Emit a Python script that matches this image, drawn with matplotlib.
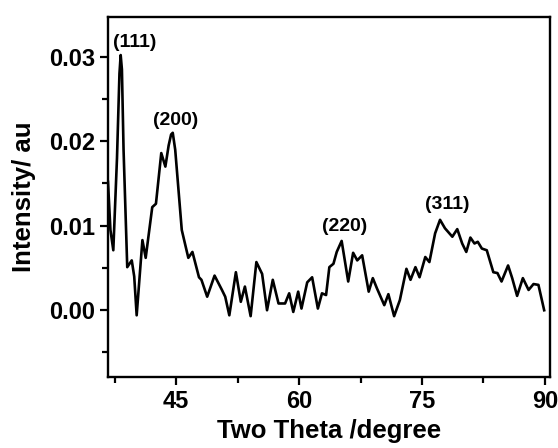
import matplotlib
matplotlib.use("Agg")
import matplotlib.pyplot as plt
from matplotlib.ticker import MultipleLocator

# XRD pattern (two theta in degrees, intensity in au)
two_theta = [36.7, 37.0, 37.35, 37.8, 38.1, 38.25, 38.4, 38.6, 39.05, 39.6, 39.9, 40.2, 40.9, 41.3,
             42.1, 42.55, 43.2, 43.7, 44.1, 44.4, 44.6, 44.9, 45.7, 46.5, 47.0, 47.8, 48.1,
             48.8, 49.7, 50.6, 51.0, 51.5, 52.3, 52.9, 53.4, 54.1, 54.8, 55.5, 56.1,
             56.8, 57.5, 58.3, 58.8, 59.3, 59.9, 60.3, 61.0, 61.6, 62.3, 62.8, 63.3,
             63.7, 64.2, 64.6, 65.2, 66.0, 66.6, 67.1, 67.7, 68.5, 69.0, 69.5, 70.4,
             70.9, 71.6, 72.3, 73.1, 73.6, 74.2, 74.7, 75.4, 75.9, 76.6, 77.2, 77.8,
             78.7, 79.3, 79.9, 80.4, 80.9, 81.4, 81.8, 82.3, 82.9, 83.7, 84.2, 84.7,
             85.5, 86.0, 86.6, 87.3, 88.0, 88.6, 89.2, 89.9]
intensity = [0.0152, 0.0095, 0.0071, 0.0180, 0.0280, 0.0302, 0.0285, 0.0190, 0.0051, 0.0059, 0.0040, -0.0006, 0.0083, 0.0062,
             0.0122, 0.0126, 0.0186, 0.0170, 0.0195, 0.0208, 0.0210, 0.0190, 0.0095, 0.0062, 0.0069, 0.0039, 0.0036,
             0.0016, 0.0041, 0.0024, 0.0016, -0.0006, 0.0045, 0.0010, 0.0028, -0.0007, 0.0057, 0.0043, 0.0000,
             0.0036, 0.0008, 0.0008, 0.0020, -0.0002, 0.0022, 0.0002, 0.0033, 0.0039, 0.0002, 0.0020, 0.0018,
             0.0051, 0.0055, 0.0069, 0.0082, 0.0034, 0.0068, 0.0059, 0.0065, 0.0022, 0.0038, 0.0026, 0.0006,
             0.0019, -0.0007, 0.0012, 0.0049, 0.0036, 0.0051, 0.0039, 0.0063, 0.0057, 0.0091, 0.0107, 0.0097,
             0.0087, 0.0096, 0.0079, 0.0069, 0.0086, 0.0079, 0.0081, 0.0073, 0.0071, 0.0045, 0.0044, 0.0034,
             0.0053, 0.0038, 0.0017, 0.0038, 0.0024, 0.0031, 0.0030, 0.0000]

# peak (hkl) labels and where they sit
peak_names = ["(111)", "(200)", "(220)", "(311)"]
peak_x = [39.9, 44.9, 65.6, 78.1]
peak_y = [0.0317, 0.0225, 0.0099, 0.0125]

plt.rcParams['font.family'] = ['Liberation Sans', 'DejaVu Sans']
plt.rcParams['font.weight'] = 'bold'

fig = plt.figure(figsize=(5.58, 4.48), dpi=100)
ax = fig.add_axes([0.1935, 0.1585, 0.792, 0.8035])

ax.plot(two_theta, intensity, color='black', lw=1.9, solid_joinstyle='round')

for name, xx, yy in zip(peak_names, peak_x, peak_y):
    ax.text(xx, yy, name, ha='center', va='center', fontsize=14, fontweight='bold')

ax.set_xlim(36.7, 90.6)
ax.set_ylim(-0.0079, 0.0347)
ax.xaxis.set_major_locator(MultipleLocator(15))
ax.xaxis.set_minor_locator(MultipleLocator(7.5))
ax.yaxis.set_major_locator(MultipleLocator(0.01))
ax.yaxis.set_minor_locator(MultipleLocator(0.005))
ax.yaxis.set_major_formatter(plt.FormatStrFormatter('%.2f'))

ax.tick_params(which='both', direction='out', width=1.6, labelsize=17, top=False, right=False)
ax.tick_params(which='major', length=6)
ax.tick_params(which='minor', length=4)
for lab in ax.get_xticklabels() + ax.get_yticklabels():
    lab.set_fontweight('bold')
for sp in ax.spines.values():
    sp.set_linewidth(1.7)

ax.set_xlabel('Two Theta /degree', fontsize=18.5, fontweight='bold', labelpad=4)
ax.set_ylabel('Intensity/ au', fontsize=18.5, fontweight='bold', labelpad=9)

fig.savefig('out.png', dpi=100)
